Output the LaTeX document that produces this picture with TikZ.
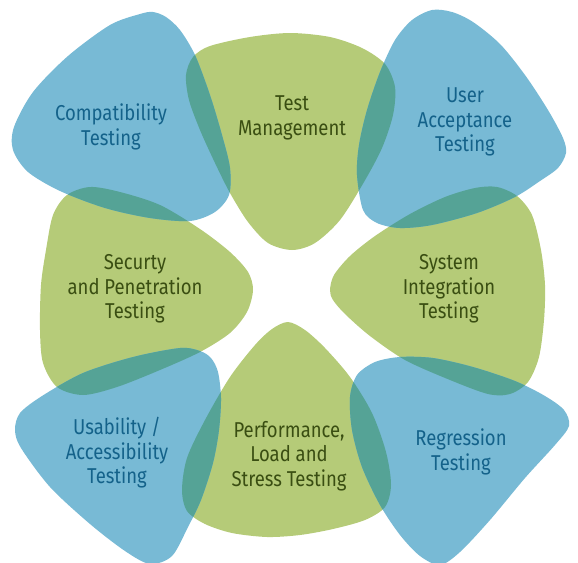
\documentclass[tikz,border=0pt]{standalone}
\usepackage{fontspec}
\setmainfont{Fira Sans}[FakeStretch=0.86]
\definecolor{gshape}{HTML}{B5CB78}
\definecolor{bshape}{HTML}{78BAD5}
\definecolor{ovl}{HTML}{55A396}
\definecolor{gtext}{HTML}{3A4E12}
\definecolor{btext}{HTML}{14628A}
\def\pCompat{plot[smooth cycle] coordinates {(140,14) (153,12) (166,17) (180,30) (195,55) (210,95) (222,135) (230,168) (229,195) (215,212) (190,221) (150,218) (105,208) (60,191) (28,172) (13,150) (14,127) (33,92) (68,56) (110,25)}}
\def\pTest{plot[smooth cycle] coordinates {(186,75) (193,57) (210,46) (250,37) (290,33) (330,37) (362,48) (385,64) (395,87) (393,115) (382,148) (364,182) (340,220) (315,243) (292,250) (268,243) (248,222) (230,193) (215,163) (200,130) (189,100)}}
\def\pUser{plot[smooth cycle] coordinates {(357,175) (359,145) (367,110) (380,72) (395,40) (412,20) (432,10) (452,12) (473,22) (500,44) (525,75) (548,110) (563,138) (566,153) (558,168) (540,181) (515,197) (477,213) (432,225) (400,228) (377,223) (363,210)}}
\def\pSys{plot[smooth cycle] coordinates {(330,290) (334,275) (350,256) (375,236) (410,214) (445,197) (475,188) (497,187) (517,196) (532,215) (541,250) (545,285) (544,320) (539,357) (528,382) (510,394) (488,394) (450,380) (405,360) (370,336) (345,314) (333,300)}}
\def\pReg{plot[smooth cycle] coordinates {(400,357) (375,362) (357,375) (350,397) (352,430) (362,467) (380,505) (400,535) (420,556) (440,565) (460,552) (490,520) (525,478) (555,445) (569,426) (564,410) (545,396) (515,381) (473,367) (433,358)}}
\def\pPerf{plot[smooth cycle] coordinates {(288,322) (305,330) (325,348) (350,377) (372,413) (386,452) (391,485) (385,507) (365,520) (333,529) (300,535) (267,537) (232,533) (205,524) (187,511) (182,490) (187,458) (205,420) (230,377) (255,345) (272,329)}}
\def\pUsab{plot[smooth cycle] coordinates {(200,351) (180,348) (133,357) (83,373) (42,396) (20,413) (15,430) (21,448) (50,487) (90,524) (125,551) (150,564) (172,556) (188,527) (201,500) (213,463) (219,430) (221,398) (218,372) (211,358)}}
\def\pSec{plot[smooth cycle] coordinates {(253,290) (248,272) (230,252) (200,229) (160,205) (120,192) (90,187) (67,195) (53,215) (46,250) (41,285) (40,330) (43,363) (57,387) (83,395) (117,387) (160,370) (200,352) (230,333) (247,312)}}
\begin{document}
\begin{tikzpicture}[x=1pt,y=-1pt,
  lbl/.style={align=center,font=\fontsize{21.5}{24.5}\selectfont,inner sep=0pt},
  gtxt/.style={lbl,text=gtext},
  btxt/.style={lbl,text=btext}]
\useasboundingbox (0,0) rectangle (578,562);
% green shapes
\fill[gshape] \pTest;
\fill[gshape] \pSys;
\fill[gshape] \pPerf;
\fill[gshape] \pSec;
% blue shapes
\fill[bshape] \pCompat;
\fill[bshape] \pUser;
\fill[bshape] \pReg;
\fill[bshape] \pUsab;
% overlaps
\begin{scope}\clip \pCompat; \fill[ovl] \pTest; \fill[ovl] \pSec; \end{scope}
\begin{scope}\clip \pUser; \fill[ovl] \pTest; \fill[ovl] \pSys; \end{scope}
\begin{scope}\clip \pReg; \fill[ovl] \pSys; \fill[ovl] \pPerf; \end{scope}
\begin{scope}\clip \pUsab; \fill[ovl] \pPerf; \fill[ovl] \pSec; \end{scope}
% labels
\node[btxt] (compat) at (111,127) {Compatibility\\Testing};
\node[gtxt] (test) at (292,118) {Test\\Management};
\node[btxt] (user) at (465,122) {User\\Acceptance\\Testing};
\node[gtxt] (sec) at (135,289) {Securty\\and Penetration\\Testing};
\node[gtxt] (sys) at (449,289) {System\\Integration\\Testing};
\node[btxt] (usab) at (117,453) {Usability /\\Accessibility\\Testing};
\node[gtxt] (perf) at (289,456) {Performance,\\Load and\\Stress Testing};
\node[btxt] (reg) at (461,452) {Regression\\Testing};
\end{tikzpicture}
\end{document}
